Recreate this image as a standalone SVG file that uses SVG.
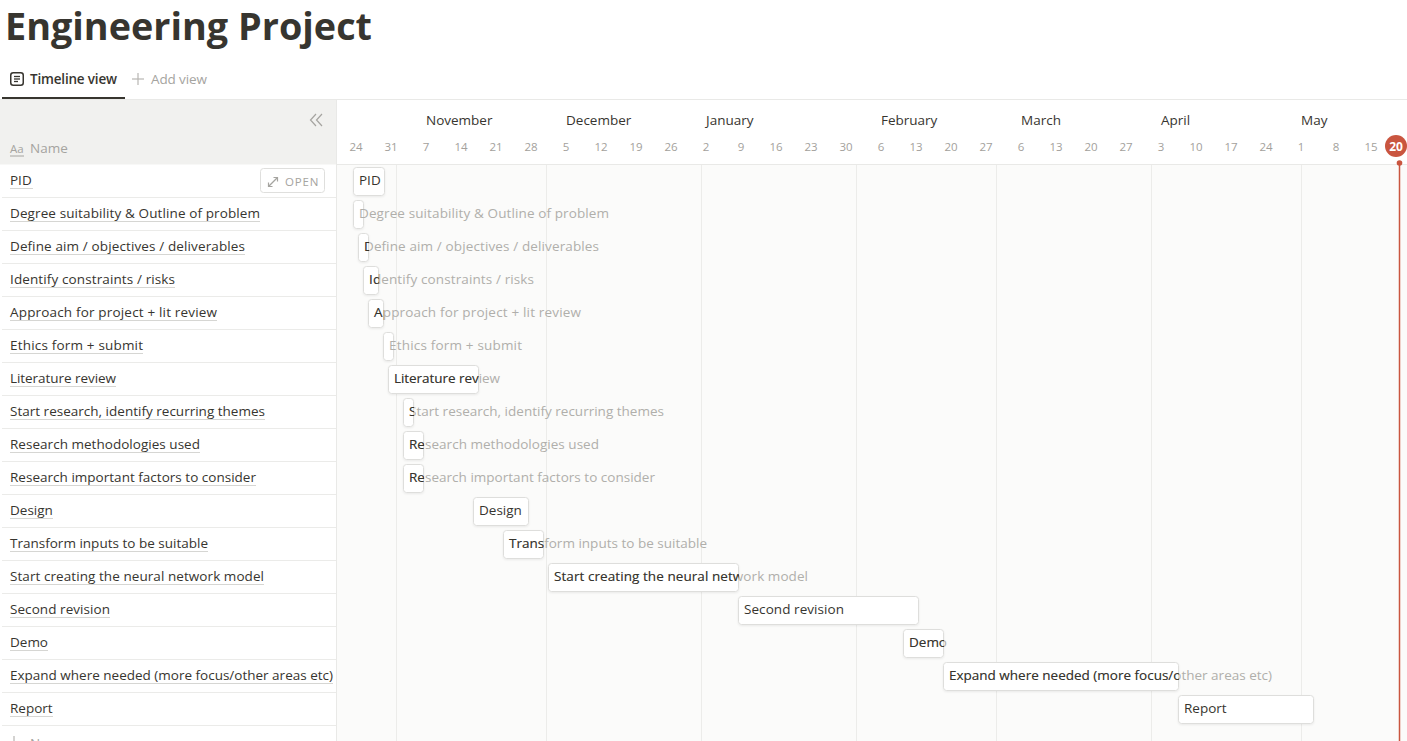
<svg xmlns="http://www.w3.org/2000/svg" xmlns:xlink="http://www.w3.org/1999/xlink" width="1407" height="741" viewBox="0 0 1407 741">
<style>
.f{font-family:"Open Sans","Noto Sans","Liberation Sans",sans-serif}
.title{font-family:"Open Sans","Noto Sans","Liberation Sans",sans-serif;font-size:38px;font-weight:700;fill:#37352f}
.nm{font-family:"Open Sans","Noto Sans","Liberation Sans",sans-serif;font-size:13.5px;fill:#37352f}
.bl{font-family:"Open Sans","Noto Sans","Liberation Sans",sans-serif;font-size:13.5px}
.tick{font-family:"Open Sans","Noto Sans","Liberation Sans",sans-serif;font-size:11.5px;fill:#a3a19c;text-anchor:middle}
.mon{font-family:"Open Sans","Noto Sans","Liberation Sans",sans-serif;font-size:13.5px;font-weight:500;fill:#37352f}
.grey{fill:#a5a4a0}
.ul{stroke:#d6d6d3;stroke-width:1}
.sep{stroke:#ebebe9;stroke-width:1}
.vl{stroke:#ececea;stroke-width:1}
.bar{fill:#ffffff;stroke:#dededc;stroke-width:1;filter:url(#sh)}
.ov{fill:#b0afab}
</style>
<defs>
<filter id="sh" x="-20%" y="-20%" width="140%" height="160%">
<feDropShadow dx="0" dy="1" stdDeviation="1" flood-color="#0f0f0f" flood-opacity="0.07"/>
</filter>
<clipPath id="c2"><rect x="358" y="233" width="11" height="28"/></clipPath>
<clipPath id="c3"><rect x="363" y="266" width="16" height="28"/></clipPath>
<clipPath id="c4"><rect x="368" y="299" width="16" height="28"/></clipPath>
<clipPath id="c6"><rect x="388" y="365" width="91" height="28"/></clipPath>
<clipPath id="c7"><rect x="403" y="398" width="11" height="28"/></clipPath>
<clipPath id="c8"><rect x="403" y="431" width="21" height="28"/></clipPath>
<clipPath id="c9"><rect x="403" y="464" width="21" height="28"/></clipPath>
<clipPath id="c11"><rect x="503" y="530" width="41" height="28"/></clipPath>
<clipPath id="c12"><rect x="548" y="563" width="191" height="28"/></clipPath>
<clipPath id="c14"><rect x="903" y="629" width="41" height="28"/></clipPath>
<clipPath id="c15"><rect x="943" y="662" width="236" height="28"/></clipPath>
</defs>

<rect x="0" y="0" width="1407" height="741" fill="#ffffff"/>

<g id="header">
<text class="title" x="5" y="40" textLength="367" lengthAdjust="spacingAndGlyphs">Engineering Project</text>
<rect x="10.75" y="72.75" width="12.5" height="12.5" rx="2.5" fill="none" stroke="#37352f" stroke-width="1.5"/>
<line x1="14" y1="76.5" x2="20" y2="76.5" stroke="#37352f" stroke-width="1.3"/>
<line x1="14" y1="79" x2="20" y2="79" stroke="#37352f" stroke-width="1.3"/>
<line x1="14" y1="81.5" x2="18" y2="81.5" stroke="#37352f" stroke-width="1.3"/>
<text class="f" x="30" y="84" font-size="13.5" font-weight="600" fill="#37352f" textLength="87">Timeline view</text>
<line x1="2" y1="98" x2="125" y2="98" stroke="#37352f" stroke-width="2"/>
<line x1="138" y1="73" x2="138" y2="85" stroke="#b7b6b2" stroke-width="1.2"/>
<line x1="132" y1="79" x2="144" y2="79" stroke="#b7b6b2" stroke-width="1.2"/>
<text class="f grey" x="151" y="84" font-size="13.5" textLength="56">Add view</text>
<line x1="0" y1="99.5" x2="1407" y2="99.5" stroke="#e9e9e7" stroke-width="1"/>
</g>

<g id="timeline-bg">
<rect x="337" y="165" width="1070" height="576" fill="#fbfbfa"/>
<line class="vl" x1="396.5" y1="165" x2="396.5" y2="741"/>
<line class="vl" x1="546.5" y1="165" x2="546.5" y2="741"/>
<line class="vl" x1="701.5" y1="165" x2="701.5" y2="741"/>
<line class="vl" x1="856.5" y1="165" x2="856.5" y2="741"/>
<line class="vl" x1="996.5" y1="165" x2="996.5" y2="741"/>
<line class="vl" x1="1151.5" y1="165" x2="1151.5" y2="741"/>
<line class="vl" x1="1301.5" y1="165" x2="1301.5" y2="741"/>
<line x1="337" y1="164.5" x2="1407" y2="164.5" stroke="#e9e9e7" stroke-width="1"/>
</g>

<g id="timeline-header">
<text class="mon" x="426" y="125">November</text>
<text class="mon" x="566" y="125">December</text>
<text class="mon" x="706" y="125">January</text>
<text class="mon" x="881" y="125">February</text>
<text class="mon" x="1021" y="125">March</text>
<text class="mon" x="1161" y="125">April</text>
<text class="mon" x="1301" y="125">May</text>
<text class="tick" x="356" y="151">24</text>
<text class="tick" x="391" y="151">31</text>
<text class="tick" x="426" y="151">7</text>
<text class="tick" x="461" y="151">14</text>
<text class="tick" x="496" y="151">21</text>
<text class="tick" x="531" y="151">28</text>
<text class="tick" x="566" y="151">5</text>
<text class="tick" x="601" y="151">12</text>
<text class="tick" x="636" y="151">19</text>
<text class="tick" x="671" y="151">26</text>
<text class="tick" x="706" y="151">2</text>
<text class="tick" x="741" y="151">9</text>
<text class="tick" x="776" y="151">16</text>
<text class="tick" x="811" y="151">23</text>
<text class="tick" x="846" y="151">30</text>
<text class="tick" x="881" y="151">6</text>
<text class="tick" x="916" y="151">13</text>
<text class="tick" x="951" y="151">20</text>
<text class="tick" x="986" y="151">27</text>
<text class="tick" x="1021" y="151">6</text>
<text class="tick" x="1056" y="151">13</text>
<text class="tick" x="1091" y="151">20</text>
<text class="tick" x="1126" y="151">27</text>
<text class="tick" x="1161" y="151">3</text>
<text class="tick" x="1196" y="151">10</text>
<text class="tick" x="1231" y="151">17</text>
<text class="tick" x="1266" y="151">24</text>
<text class="tick" x="1301" y="151">1</text>
<text class="tick" x="1336" y="151">8</text>
<text class="tick" x="1371" y="151">15</text>
</g>

<g id="left-panel">
<rect x="0" y="100" width="336" height="64.5" fill="#f1f1ef"/>
<line x1="336.5" y1="100" x2="336.5" y2="741" stroke="#e9e9e7" stroke-width="1"/>
<polyline points="316,114 310.5,120 316,126" fill="none" stroke="#a5a4a0" stroke-width="1.2"/>
<polyline points="322,114 316.5,120 322,126" fill="none" stroke="#a5a4a0" stroke-width="1.2"/>
<text class="f grey" x="10" y="153" font-size="11.5">Aa</text>
<line x1="10" y1="156" x2="24" y2="156" stroke="#a5a4a0" stroke-width="1"/>
<text class="f grey" x="30" y="153" font-size="13.5">Name</text>
<g id="row-separators">
<line class="sep" x1="2" y1="197.5" x2="336" y2="197.5"/>
<line class="sep" x1="2" y1="230.5" x2="336" y2="230.5"/>
<line class="sep" x1="2" y1="263.5" x2="336" y2="263.5"/>
<line class="sep" x1="2" y1="296.5" x2="336" y2="296.5"/>
<line class="sep" x1="2" y1="329.5" x2="336" y2="329.5"/>
<line class="sep" x1="2" y1="362.5" x2="336" y2="362.5"/>
<line class="sep" x1="2" y1="395.5" x2="336" y2="395.5"/>
<line class="sep" x1="2" y1="428.5" x2="336" y2="428.5"/>
<line class="sep" x1="2" y1="461.5" x2="336" y2="461.5"/>
<line class="sep" x1="2" y1="494.5" x2="336" y2="494.5"/>
<line class="sep" x1="2" y1="527.5" x2="336" y2="527.5"/>
<line class="sep" x1="2" y1="560.5" x2="336" y2="560.5"/>
<line class="sep" x1="2" y1="593.5" x2="336" y2="593.5"/>
<line class="sep" x1="2" y1="626.5" x2="336" y2="626.5"/>
<line class="sep" x1="2" y1="659.5" x2="336" y2="659.5"/>
<line class="sep" x1="2" y1="692.5" x2="336" y2="692.5"/>
<line class="sep" x1="2" y1="725.5" x2="336" y2="725.5"/>
</g>
<g id="names">
<text class="nm" x="10" y="185">PID</text>
<line class="ul" x1="10" y1="188.5" x2="33" y2="188.5"/>
<text class="nm" x="10" y="218" textLength="250">Degree suitability &amp; Outline of problem</text>
<line class="ul" x1="10" y1="221.5" x2="260" y2="221.5"/>
<text class="nm" x="10" y="251" textLength="235">Define aim / objectives / deliverables</text>
<line class="ul" x1="10" y1="254.5" x2="245" y2="254.5"/>
<text class="nm" x="10" y="284" textLength="165">Identify constraints / risks</text>
<line class="ul" x1="10" y1="287.5" x2="175" y2="287.5"/>
<text class="nm" x="10" y="317" textLength="207">Approach for project + lit review</text>
<line class="ul" x1="10" y1="320.5" x2="217" y2="320.5"/>
<text class="nm" x="10" y="350" textLength="133">Ethics form + submit</text>
<line class="ul" x1="10" y1="353.5" x2="143" y2="353.5"/>
<text class="nm" x="10" y="383" textLength="106">Literature review</text>
<line class="ul" x1="10" y1="386.5" x2="116" y2="386.5"/>
<text class="nm" x="10" y="416" textLength="255">Start research, identify recurring themes</text>
<line class="ul" x1="10" y1="419.5" x2="265" y2="419.5"/>
<text class="nm" x="10" y="449" textLength="190">Research methodologies used</text>
<line class="ul" x1="10" y1="452.5" x2="200" y2="452.5"/>
<text class="nm" x="10" y="482" textLength="246">Research important factors to consider</text>
<line class="ul" x1="10" y1="485.5" x2="256" y2="485.5"/>
<text class="nm" x="10" y="515">Design</text>
<line class="ul" x1="10" y1="518.5" x2="53" y2="518.5"/>
<text class="nm" x="10" y="548" textLength="198">Transform inputs to be suitable</text>
<line class="ul" x1="10" y1="551.5" x2="208" y2="551.5"/>
<text class="nm" x="10" y="581" textLength="254">Start creating the neural network model</text>
<line class="ul" x1="10" y1="584.5" x2="264" y2="584.5"/>
<text class="nm" x="10" y="614" textLength="100">Second revision</text>
<line class="ul" x1="10" y1="617.5" x2="110" y2="617.5"/>
<text class="nm" x="10" y="647">Demo</text>
<line class="ul" x1="10" y1="650.5" x2="48" y2="650.5"/>
<text class="nm" x="10" y="680" textLength="323">Expand where needed (more focus/other areas etc)</text>
<line class="ul" x1="10" y1="683.5" x2="333" y2="683.5"/>
<text class="nm" x="10" y="713">Report</text>
<line class="ul" x1="10" y1="716.5" x2="53" y2="716.5"/>
</g>
<g id="open-button">
<rect x="260.5" y="168.5" width="64" height="24" rx="3" fill="#ffffff" stroke="#dfdfdd" stroke-width="1"/>
<line x1="269" y1="186" x2="277" y2="178" stroke="#a5a4a0" stroke-width="1.2"/>
<polyline points="273.5,177.5 277.5,177.5 277.5,181.5" fill="none" stroke="#a5a4a0" stroke-width="1.2"/>
<polyline points="268.5,182.5 268.5,186.5 272.5,186.5" fill="none" stroke="#a5a4a0" stroke-width="1.2"/>
<text class="f grey" x="285" y="185.5" font-size="11.5" letter-spacing="0.8">OPEN</text>
</g>
<g id="new-row">
<line x1="14" y1="736" x2="14" y2="746" stroke="#b7b6b2" stroke-width="1.2"/>
<text class="f grey" x="30" y="748" font-size="13.5">New</text>
</g>
</g>

<g id="connectors"/>

<g id="bars">
<g id="bar-pid">
<rect class="bar" x="353.5" y="167.5" width="31" height="28" rx="3"/>
<text class="nm" x="359" y="185">PID</text>
</g>
<g id="bar-degree">
<rect class="bar" x="353.5" y="200.5" width="10" height="28" rx="3"/>
<g class="ov"><text class="bl" x="359" y="218" textLength="250">Degree suitability &amp; Outline of problem</text></g>
</g>
<g id="bar-define">
<rect class="bar" x="358.5" y="233.5" width="10" height="28" rx="3"/>
<g class="ov"><text id="b2" class="bl" x="364" y="251" textLength="235">Define aim / objectives / deliverables</text></g>
<use xlink:href="#b2" fill="#37352f" clip-path="url(#c2)"/>
</g>
<g id="bar-identify">
<rect class="bar" x="363.5" y="266.5" width="15" height="28" rx="3"/>
<g class="ov"><text id="b3" class="bl" x="369" y="284" textLength="165">Identify constraints / risks</text></g>
<use xlink:href="#b3" fill="#37352f" clip-path="url(#c3)"/>
</g>
<g id="bar-approach">
<rect class="bar" x="368.5" y="299.5" width="15" height="28" rx="3"/>
<g class="ov"><text id="b4" class="bl" x="374" y="317" textLength="207">Approach for project + lit review</text></g>
<use xlink:href="#b4" fill="#37352f" clip-path="url(#c4)"/>
</g>
<g id="bar-ethics">
<rect class="bar" x="383.5" y="332.5" width="10" height="28" rx="3"/>
<g class="ov"><text class="bl" x="389" y="350" textLength="133">Ethics form + submit</text></g>
</g>
<g id="bar-literature">
<rect class="bar" x="388.5" y="365.5" width="90" height="28" rx="3"/>
<g class="ov"><text id="b6" class="bl" x="394" y="383" textLength="106">Literature review</text></g>
<use xlink:href="#b6" fill="#37352f" clip-path="url(#c6)"/>
</g>
<g id="bar-start-research">
<rect class="bar" x="403.5" y="398.5" width="10" height="28" rx="3"/>
<g class="ov"><text id="b7" class="bl" x="409" y="416" textLength="255">Start research, identify recurring themes</text></g>
<use xlink:href="#b7" fill="#37352f" clip-path="url(#c7)"/>
</g>
<g id="bar-methodologies">
<rect class="bar" x="403.5" y="431.5" width="20" height="28" rx="3"/>
<g class="ov"><text id="b8" class="bl" x="409" y="449" textLength="190">Research methodologies used</text></g>
<use xlink:href="#b8" fill="#37352f" clip-path="url(#c8)"/>
</g>
<g id="bar-factors">
<rect class="bar" x="403.5" y="464.5" width="20" height="28" rx="3"/>
<g class="ov"><text id="b9" class="bl" x="409" y="482" textLength="246">Research important factors to consider</text></g>
<use xlink:href="#b9" fill="#37352f" clip-path="url(#c9)"/>
</g>
<g id="bar-design">
<rect class="bar" x="473.5" y="497.5" width="55" height="28" rx="3"/>
<text class="nm" x="479" y="515">Design</text>
</g>
<g id="bar-transform">
<rect class="bar" x="503.5" y="530.5" width="40" height="28" rx="3"/>
<g class="ov"><text id="b11" class="bl" x="509" y="548" textLength="198">Transform inputs to be suitable</text></g>
<use xlink:href="#b11" fill="#37352f" clip-path="url(#c11)"/>
</g>
<g id="bar-neural">
<rect class="bar" x="548.5" y="563.5" width="190" height="28" rx="3"/>
<g class="ov"><text id="b12" class="bl" x="554" y="581" textLength="254">Start creating the neural network model</text></g>
<use xlink:href="#b12" fill="#37352f" clip-path="url(#c12)"/>
</g>
<g id="bar-second">
<rect class="bar" x="738.5" y="596.5" width="180" height="28" rx="3"/>
<text class="nm" x="744" y="614" textLength="100">Second revision</text>
</g>
<g id="bar-demo">
<rect class="bar" x="903.5" y="629.5" width="40" height="28" rx="3"/>
<g class="ov"><text id="b14" class="bl" x="909" y="647">Demo</text></g>
<use xlink:href="#b14" fill="#37352f" clip-path="url(#c14)"/>
</g>
<g id="bar-expand">
<rect class="bar" x="943.5" y="662.5" width="235" height="28" rx="3"/>
<g class="ov"><text id="b15" class="bl" x="949" y="680" textLength="323">Expand where needed (more focus/other areas etc)</text></g>
<use xlink:href="#b15" fill="#37352f" clip-path="url(#c15)"/>
</g>
<g id="bar-report">
<rect class="bar" x="1178.5" y="695.5" width="135" height="28" rx="3"/>
<text class="nm" x="1184" y="713">Report</text>
</g>
</g>

<g id="today">
<line x1="1399.5" y1="163" x2="1399.5" y2="741" stroke="#c9553f" stroke-width="1.5"/>
<circle cx="1399.5" cy="163" r="2.8" fill="#c9553f"/>
<circle cx="1396" cy="146" r="11" fill="#c9553f"/>
<text class="f" x="1396" y="150.5" font-size="12" font-weight="700" fill="#ffffff" text-anchor="middle">20</text>
</g>
</svg>
